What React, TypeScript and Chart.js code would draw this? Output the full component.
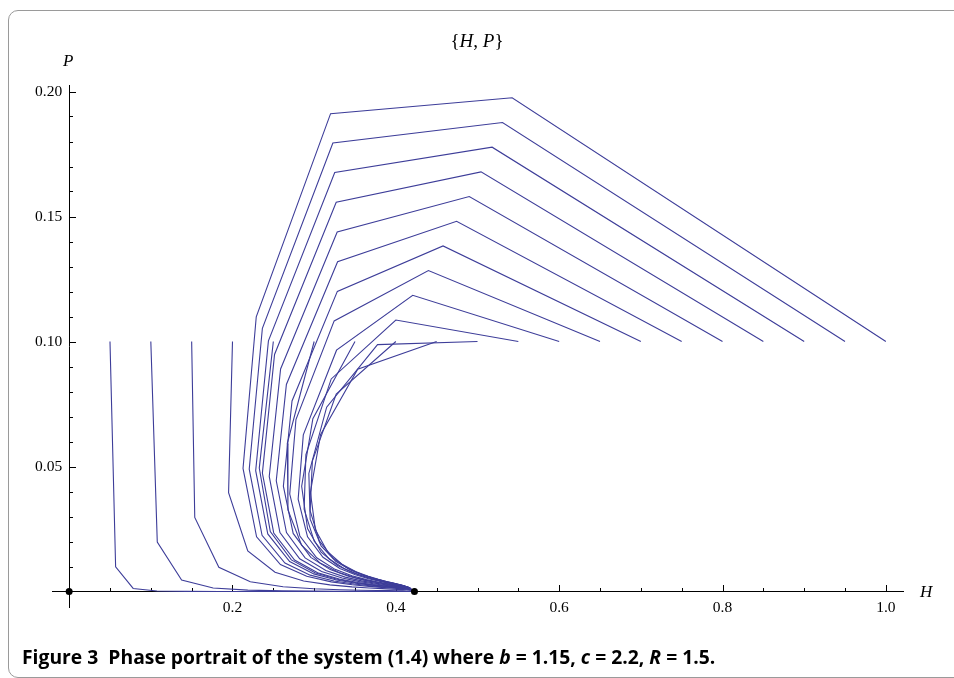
import React, { useEffect, useLayoutEffect, useRef } from "react";
import { Chart, registerables } from "chart.js";

Chart.register(...registerables);

// Trajectories of the map, one per starting value H0 (P0 = 0.1): [H, P] iterates
const T05: [number, number][] = [[0.05,0.1],[0.0569,0.00987],[0.0784,0.00122],[0.1075,0.00021],[0.1433,0.00005],[0.1843,0.00002],[0.2276,0.00001],[0.2697,0],[0.3074,0],[0.3388,0],[0.3633,0],[0.3816,0],[0.3947,0],[0.4038,0],[0.4101,0],[0.4143,0],[0.4172,0],[0.419,0],[0.4203,0],[0.4211,0],[0.4217,0]];
const T10: [number, number][] = [[0.1,0.1],[0.1079,0.01975],[0.1377,0.00459],[0.1763,0.00138],[0.2188,0.00054],[0.2611,0.00026],[0.2997,0.00015],[0.3325,0.0001],[0.3584,0.00007],[0.378,0.00006],[0.3921,0.00005],[0.402,0.00004],[0.4089,0.00004],[0.4135,0.00003],[0.4166,0.00003],[0.4187,0.00003],[0.4201,0.00003],[0.421,0.00002],[0.4216,0.00002],[0.422,0.00002],[0.4222,0.00002]];
const T15: [number, number][] = [[0.15,0.1],[0.1538,0.02962],[0.1833,0.0097],[0.2218,0.00387],[0.262,0.00188],[0.2995,0.00108],[0.3316,0.00071],[0.3573,0.00052],[0.3768,0.00041],[0.3909,0.00034],[0.4009,0.00029],[0.4079,0.00026],[0.4126,0.00023],[0.4158,0.00021],[0.4179,0.00019],[0.4194,0.00018],[0.4204,0.00016],[0.4211,0.00015],[0.4215,0.00014],[0.4218,0.00013],[0.422,0.00012]];
const T20: [number, number][] = [[0.2,0.1],[0.1952,0.0395],[0.2187,0.01625],[0.2521,0.00768],[0.2871,0.00422],[0.3192,0.00265],[0.3462,0.00186],[0.3674,0.00141],[0.3834,0.00114],[0.395,0.00096],[0.4032,0.00083],[0.4089,0.00074],[0.4129,0.00067],[0.4156,0.00061],[0.4174,0.00055],[0.4187,0.00051],[0.4196,0.00047],[0.4203,0.00043],[0.4207,0.0004],[0.4211,0.00037],[0.4213,0.00034]];
const T25: [number, number][] = [[0.25,0.1],[0.2328,0.04937],[0.2463,0.02396],[0.2721,0.01265],[0.301,0.00747],[0.3282,0.0049],[0.3514,0.00352],[0.3699,0.00271],[0.3841,0.0022],[0.3945,0.00186],[0.4021,0.00161],[0.4075,0.00142],[0.4112,0.00128],[0.4139,0.00115],[0.4157,0.00105],[0.4171,0.00096],[0.4181,0.00088],[0.4189,0.00081],[0.4195,0.00075],[0.4199,0.00069],[0.4203,0.00064]];
const T30: [number, number][] = [[0.3,0.1],[0.2671,0.05924],[0.2679,0.03264],[0.2846,0.01856],[0.3073,0.01139],[0.3303,0.0076],[0.3509,0.00548],[0.368,0.00421],[0.3815,0.00339],[0.3917,0.00283],[0.3992,0.00243],[0.4048,0.00214],[0.4088,0.0019],[0.4117,0.00171],[0.4139,0.00155],[0.4154,0.00141],[0.4166,0.00129],[0.4175,0.00118],[0.4182,0.00109],[0.4188,0.001],[0.4192,0.00092]];
const T35: [number, number][] = [[0.35,0.1],[0.2984,0.06912],[0.2847,0.04209],[0.2919,0.02518],[0.3085,0.01573],[0.3282,0.01049],[0.3471,0.00749],[0.3636,0.00567],[0.377,0.00451],[0.3876,0.00372],[0.3957,0.00316],[0.4017,0.00275],[0.4062,0.00243],[0.4095,0.00217],[0.4119,0.00196],[0.4137,0.00177],[0.4152,0.00161],[0.4163,0.00147],[0.4171,0.00135],[0.4178,0.00124],[0.4184,0.00114]];
const T40: [number, number][] = [[0.4,0.1],[0.327,0.07899],[0.2978,0.05216],[0.2951,0.03228],[0.3063,0.02023],[0.3232,0.01333],[0.3411,0.00934],[0.3577,0.00694],[0.3718,0.00542],[0.3831,0.00441],[0.3919,0.0037],[0.3987,0.00319],[0.4037,0.00279],[0.4075,0.00248],[0.4103,0.00223],[0.4125,0.00201],[0.4141,0.00182],[0.4154,0.00166],[0.4164,0.00152],[0.4172,0.00139],[0.4178,0.00128]];
const T45: [number, number][] = [[0.45,0.1],[0.3533,0.08887],[0.3078,0.06275],[0.2954,0.03969],[0.3015,0.0247],[0.3164,0.01594],[0.334,0.01091],[0.3512,0.00792],[0.3662,0.00606],[0.3786,0.00485],[0.3884,0.00402],[0.396,0.00344],[0.4016,0.00299],[0.4059,0.00265],[0.4091,0.00236],[0.4115,0.00213],[0.4134,0.00192],[0.4148,0.00175],[0.4159,0.0016],[0.4168,0.00146],[0.4175,0.00134]];
const T50: [number, number][] = [[0.5,0.1],[0.3776,0.09874],[0.3153,0.07373],[0.2935,0.04722],[0.2951,0.02895],[0.3085,0.01821],[0.3264,0.01212],[0.3445,0.00859],[0.3608,0.00645],[0.3744,0.00508],[0.3852,0.00416],[0.3936,0.00353],[0.3999,0.00305],[0.4047,0.00269],[0.4082,0.00239],[0.4109,0.00215],[0.413,0.00194],[0.4145,0.00176],[0.4157,0.00161],[0.4167,0.00147],[0.4174,0.00135]];
const T55: [number, number][] = [[0.55,0.1],[0.4,0.10861],[0.3209,0.08502],[0.2899,0.05474],[0.2877,0.03289],[0.3001,0.02008],[0.3185,0.01297],[0.3379,0.00896],[0.3556,0.00659],[0.3705,0.00512],[0.3825,0.00415],[0.3917,0.00349],[0.3987,0.00301],[0.4039,0.00264],[0.4077,0.00234],[0.4106,0.0021],[0.4128,0.0019],[0.4145,0.00173],[0.4157,0.00157],[0.4167,0.00144],[0.4174,0.00132]];
const T60: [number, number][] = [[0.6,0.1],[0.4207,0.11849],[0.3274,0.09653],[0.2867,0.06264],[0.2804,0.03691],[0.2919,0.02187],[0.3108,0.01371],[0.3314,0.00924],[0.3505,0.00666],[0.3667,0.0051],[0.3798,0.00409],[0.3899,0.00342],[0.3975,0.00293],[0.4031,0.00257],[0.4073,0.00228],[0.4104,0.00204],[0.4127,0.00184],[0.4145,0.00167],[0.4158,0.00152],[0.4168,0.00139],[0.4175,0.00128]];
const T65: [number, number][] = [[0.65,0.1],[0.4399,0.12836],[0.3245,0.10823],[0.2777,0.06877],[0.2701,0.03899],[0.2825,0.0222],[0.3031,0.01347],[0.3256,0.00885],[0.3463,0.00628],[0.364,0.00475],[0.3781,0.00378],[0.389,0.00315],[0.3971,0.00269],[0.4031,0.00235],[0.4074,0.00209],[0.4106,0.00187],[0.4131,0.00169],[0.4148,0.00154],[0.4161,0.0014],[0.4171,0.00128],[0.4179,0.00118]];
const T70: [number, number][] = [[0.7,0.1],[0.4578,0.13824],[0.3284,0.12004],[0.2729,0.07622],[0.2623,0.04213],[0.2743,0.02322],[0.2959,0.01366],[0.3197,0.00876],[0.3419,0.0061],[0.3608,0.00456],[0.376,0.0036],[0.3876,0.00298],[0.3963,0.00254],[0.4027,0.00221],[0.4073,0.00196],[0.4107,0.00176],[0.4132,0.00159],[0.415,0.00144],[0.4163,0.00132],[0.4173,0.00121],[0.4181,0.00111]];
const T75: [number, number][] = [[0.75,0.1],[0.4744,0.14811],[0.3287,0.13191],[0.266,0.0828],[0.2536,0.0443],[0.2661,0.02355],[0.2889,0.01343],[0.3143,0.00841],[0.338,0.00576],[0.3581,0.00426],[0.3743,0.00334],[0.3866,0.00275],[0.3958,0.00234],[0.4025,0.00204],[0.4074,0.0018],[0.4108,0.00162],[0.4133,0.00146],[0.4152,0.00133],[0.4166,0.00121],[0.4176,0.00111],[0.4183,0.00102]];
const T80: [number, number][] = [[0.8,0.1],[0.4899,0.15798],[0.3282,0.14381],[0.2589,0.08901],[0.245,0.04604],[0.2581,0.0236],[0.2823,0.01306],[0.3091,0.008],[0.3343,0.00539],[0.3556,0.00394],[0.3727,0.00307],[0.3858,0.00252],[0.3954,0.00214],[0.4024,0.00186],[0.4075,0.00165],[0.4111,0.00148],[0.4135,0.00133],[0.4155,0.00121],[0.4168,0.00111],[0.4179,0.00102],[0.4186,0.00093]];
const T85: [number, number][] = [[0.85,0.1],[0.5043,0.16786],[0.327,0.15571],[0.2515,0.09483],[0.2366,0.04736],[0.2505,0.02341],[0.276,0.01257],[0.3043,0.00753],[0.3307,0.005],[0.3533,0.00362],[0.3712,0.0028],[0.3849,0.00229],[0.395,0.00194],[0.4023,0.00168],[0.4076,0.00149],[0.4113,0.00134],[0.4138,0.00121],[0.4157,0.0011],[0.4171,0.001],[0.4181,0.00092],[0.4189,0.00085]];
const T90: [number, number][] = [[0.9,0.1],[0.5179,0.17773],[0.3252,0.16759],[0.244,0.10027],[0.2284,0.04831],[0.2432,0.02303],[0.27,0.01201],[0.2996,0.00704],[0.3274,0.00461],[0.351,0.0033],[0.3698,0.00254],[0.3841,0.00207],[0.3947,0.00175],[0.4023,0.00152],[0.4077,0.00134],[0.4115,0.0012],[0.414,0.00109],[0.416,0.00099],[0.4174,0.00091],[0.4184,0.00083],[0.4191,0.00077]];
const T95: [number, number][] = [[0.95,0.1],[0.5306,0.18761],[0.3229,0.17941],[0.2366,0.10529],[0.2205,0.04892],[0.2362,0.0225],[0.2642,0.01141],[0.2952,0.00655],[0.3242,0.00422],[0.3488,0.003],[0.3685,0.00229],[0.3834,0.00186],[0.3943,0.00157],[0.4022,0.00136],[0.4077,0.0012],[0.4116,0.00108],[0.4145,0.00098],[0.4164,0.00089],[0.4178,0.00082],[0.4187,0.00075],[0.4194,0.00069]];
const T100: [number, number][] = [[1.0,0.1],[0.5424,0.19748],[0.3201,0.19114],[0.2291,0.1099],[0.2129,0.04921],[0.2295,0.02185],[0.2587,0.01077],[0.2909,0.00606],[0.321,0.00385],[0.3467,0.00271],[0.3671,0.00206],[0.3826,0.00166],[0.3939,0.0014],[0.402,0.00121],[0.4078,0.00107],[0.4118,0.00096],[0.4147,0.00087],[0.4166,0.0008],[0.418,0.00073],[0.419,0.00067],[0.4197,0.00062]];

const trajectories = [T05, T10, T15, T20, T25, T30, T35, T40, T45, T50, T55, T60, T65, T70, T75, T80, T85, T90, T95, T100];

// Equilibrium points
const equilibria: [number, number][] = [[0, 0], [0.4228, 0]];

// Axis ranges and ticks
const xRange = [-0.021, 1.021];
const yRange = [-0.0062, 0.2026];
const xMinorStep = 0.05;
const xMajorEvery = 4;
const yMinorStep = 0.01;
const yMajorEvery = 5;

const LINE_COLOR = "#3d3d99";
const SERIF = '"Liberation Serif", "DejaVu Serif", serif';
const TICK_FONT_SIZE = 15.5;

const mmaTicks = {
  id: "mmaTicks",
  beforeDatasetsDraw(chart: any) {
    const { ctx, scales } = chart;
    const xs = scales.x;
    const ys = scales.y;
    const x0 = Math.round(xs.getPixelForValue(0));
    const y0 = Math.round(ys.getPixelForValue(0));
    ctx.save();
    ctx.strokeStyle = "#000";
    ctx.lineWidth = 1;
    ctx.beginPath();
    for (let i = 1; i <= 20; i++) {
      const px = Math.round(xs.getPixelForValue(i * xMinorStep)) + 0.5;
      const len = i % xMajorEvery === 0 ? 7 : 4;
      ctx.moveTo(px, y0);
      ctx.lineTo(px, y0 - len);
    }
    for (let i = 1; i <= 20; i++) {
      const py = Math.round(ys.getPixelForValue(i * yMinorStep)) + 0.5;
      const len = i % yMajorEvery === 0 ? 7 : 4;
      ctx.moveTo(x0, py);
      ctx.lineTo(x0 + len, py);
    }
    ctx.stroke();
    ctx.restore();
  },
  afterDraw(chart: any) {
    // y tick labels from the library's own y ticks, placed left of the axis
    const { ctx, scales } = chart;
    const xs = scales.x;
    const ys = scales.y;
    const x0 = xs.getPixelForValue(0);
    ctx.save();
    ctx.fillStyle = "#000";
    ctx.font = `${TICK_FONT_SIZE}px ${SERIF}`;
    ctx.textAlign = "right";
    ctx.textBaseline = "middle";
    for (const t of ys.ticks) {
      if (Number(t.value) === 0) continue;
      ctx.fillText(Number(t.value).toFixed(2), x0 - 7, ys.getPixelForValue(t.value) + 0.5);
    }
    ctx.restore();
  },
};

export default function App() {
  const canvasRef = useRef<HTMLCanvasElement>(null);
  const captionRef = useRef<HTMLDivElement>(null);

  useLayoutEffect(() => {
    const el = captionRef.current;
    if (el) {
      const w = el.scrollWidth;
      if (w > 0) el.style.transform = `scaleX(${693 / w})`;
    }
  }, []);

  useEffect(() => {
    const canvas = canvasRef.current;
    if (!canvas) return;
    const datasets: any[] = trajectories.map((t) => ({
      data: t.map(([x, y]) => ({ x, y })),
      showLine: true,
      borderColor: LINE_COLOR,
      borderWidth: 1.1,
      pointRadius: 0,
      pointHoverRadius: 0,
      fill: false,
      order: 1,
    }));
    datasets.push({
      data: equilibria.map(([x, y]) => ({ x, y })),
      showLine: false,
      pointRadius: 3.5,
      pointHoverRadius: 3.5,
      backgroundColor: "#000",
      borderColor: "#000",
      borderWidth: 0,
      order: 0,
    });
    const chart = new Chart(canvas, {
      type: "scatter",
      data: { datasets },
      options: {
        animation: false,
        responsive: false,
        events: [],
        layout: { padding: { left: 52, right: 51, top: 85, bottom: 71 } },
        plugins: {
          legend: { display: false },
          tooltip: { enabled: false },
          title: { display: false },
        },
        scales: {
          x: {
            type: "linear",
            min: xRange[0],
            max: xRange[1],
            position: { y: 0 } as any,
            grid: { display: false, drawTicks: false },
            border: { display: true, color: "#000", width: 1 },
            ticks: {
              stepSize: 0.2,
              includeBounds: false,
              autoSkip: false,
              maxRotation: 0,
              padding: 7,
              color: "#000",
              font: { family: SERIF, size: TICK_FONT_SIZE },
              callback: (v: any) => (Number(v) === 0 ? "" : Number(v).toFixed(1)),
            },
          },
          y: {
            type: "linear",
            min: yRange[0],
            max: yRange[1],
            position: { x: 0 } as any,
            grid: { display: false, drawTicks: false },
            border: { display: true, color: "#000", width: 1 },
            ticks: {
              display: false,
              stepSize: 0.05,
              includeBounds: false,
              autoSkip: false,
            },
          },
        },
      } as any,
      plugins: [mmaTicks],
    });
    return () => chart.destroy();
  }, []);

  return (
    <div
      style={{
        position: "fixed",
        left: 0,
        top: 0,
        width: 954,
        height: 678,
        overflow: "hidden",
        background: "#fff",
      }}
    >
      <div
        style={{
          position: "absolute",
          left: 8,
          top: 10,
          width: 990,
          height: 666,
          border: "1px solid #9a9a9a",
          borderRadius: 10,
        }}
      />
      <canvas
        ref={canvasRef}
        width={954}
        height={678}
        style={{ position: "absolute", left: 0, top: 0 }}
      />
      <div
        style={{
          position: "absolute",
          left: 0,
          width: 954,
          top: 30,
          textAlign: "center",
          fontFamily: SERIF,
          fontSize: 19,
          lineHeight: "22px",
          color: "#000",
        }}
      >
        {"{"}
        <i>H</i>, <i>P</i>
        {"}"}
      </div>
      <div
        style={{
          position: "absolute",
          left: 63,
          top: 51,
          fontFamily: SERIF,
          fontSize: 17,
          fontStyle: "italic",
          lineHeight: "20px",
        }}
      >
        P
      </div>
      <div
        style={{
          position: "absolute",
          left: 920,
          top: 582,
          fontFamily: SERIF,
          fontSize: 17,
          fontStyle: "italic",
          lineHeight: "20px",
        }}
      >
        H
      </div>
      <div
        ref={captionRef}
        style={{
          position: "absolute",
          left: 22,
          top: 645,
          whiteSpace: "nowrap",
          transformOrigin: "0 0",
          fontFamily: '"Open Sans", "Noto Sans", sans-serif',
          fontWeight: 700,
          fontSize: 20,
          lineHeight: "23px",
          color: "#000",
        }}
      >
        Figure 3&nbsp;&nbsp;Phase portrait of the system (1.4) where <i>b</i> = 1.15, <i>c</i> = 2.2,{" "}
        <i>R</i> = 1.5.
      </div>
    </div>
  );
}
